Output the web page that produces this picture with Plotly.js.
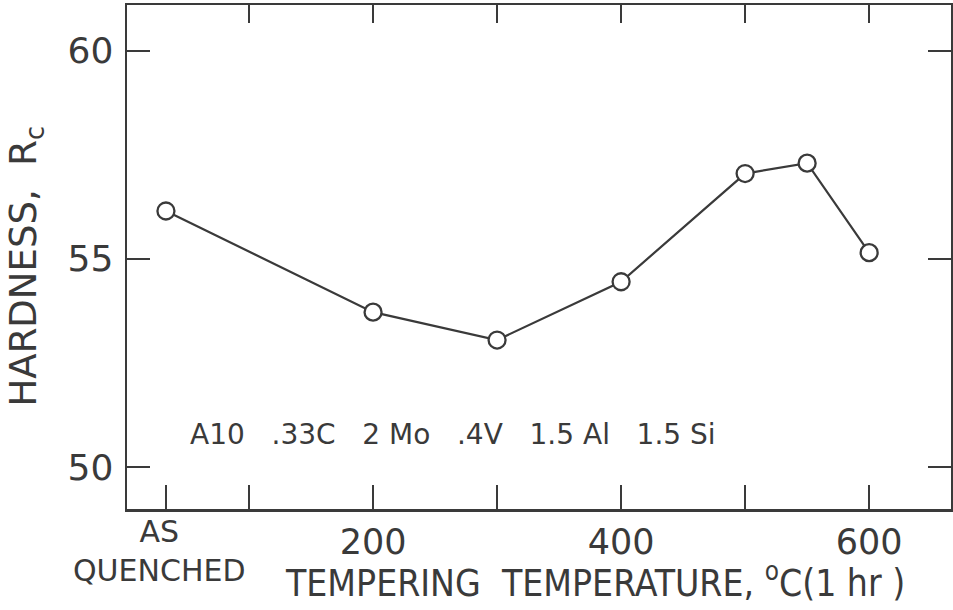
<!DOCTYPE html>
<html>
<head>
<meta charset="utf-8">
<script src="https://cdn.plot.ly/plotly-3.0.1.min.js"></script>
<style>html,body{margin:0;padding:0;background:#fff;}#chart{width:953px;height:610px;}</style>
</head>
<body>
<div id="chart"></div>
<script>
// ---- data ----
const conditionLabels = ["AS QUENCHED", "200", "300", "400", "500", "550", "600"];
const temperatureX = [33, 200, 300, 400, 500, 550, 600]; // "AS QUENCHED" placed at its tick
const hardnessRc = [56.15, 53.72, 53.05, 54.45, 57.05, 57.3, 55.15];

const xTickVals = [200, 400, 600];
const xTickText = ["200", "400", "600"];
const xMinorTickVals = [33, 100, 300, 500];
const xTopTickVals = [100, 200, 300, 400, 500, 600];
const asQuenchedLabel = "AS<br>QUENCHED";
const yTickVals = [50, 55, 60];
const yTickText = ["50", "55", "60"];
const alloyNote = "A10\u00A0\u00A0\u00A0.33C\u00A0\u00A0\u00A02\u00A0Mo\u00A0\u00A0\u00A0.4V\u00A0\u00A0\u00A01.5\u00A0Al\u00A0\u00A0\u00A01.5\u00A0Si";

const ink = "#3a3a3a";
const fontFam = "DejaVu Sans, sans-serif";
const condFam = "DejaVu Sans Condensed, DejaVu Sans, sans-serif";

const xRange = [1.6, 666];
const yRange = [48.99, 61.1];

const traces = [
  {
    x: temperatureX, y: hardnessRc, text: conditionLabels,
    type: "scatter", mode: "lines+markers",
    line: {color: ink, width: 2.2},
    marker: {symbol: "circle", size: 17, color: "#ffffff", line: {color: ink, width: 2.3}},
    hoverinfo: "x+y", showlegend: false
  },
  {
    x: [xTopTickVals[0]], y: [hardnessRc[0]], xaxis: "x2", yaxis: "y",
    type: "scatter", mode: "markers", marker: {opacity: 0}, showlegend: false, hoverinfo: "skip"
  }
];

const layout = {
  width: 953, height: 610,
  margin: {l: 127, r: 2, t: 5, b: 101, pad: 0},
  paper_bgcolor: "#ffffff", plot_bgcolor: "#ffffff",
  showlegend: false,
  font: {family: fontFam, color: ink},
  xaxis: {
    range: xRange, tickmode: "array", tickvals: xTickVals, ticktext: xTickText,
    ticks: "inside", ticklen: 24, tickwidth: 2, tickcolor: ink,
    minor: {tickmode: "array", tickvals: xMinorTickVals, ticks: "inside", ticklen: 24, tickwidth: 2, tickcolor: ink, showgrid: false},
    showline: true, linecolor: ink, linewidth: 2.5, mirror: true,
    showgrid: false, zeroline: false,
    tickfont: {family: fontFam, size: 35, color: ink},
    ticklabelstandoff: 0
  },
  xaxis2: {
    overlaying: "x", side: "top", anchor: "y", range: xRange,
    tickmode: "array", tickvals: xTopTickVals, ticks: "inside", ticklen: 18, tickwidth: 2, tickcolor: ink,
    showticklabels: false, showgrid: false, zeroline: false, showline: false
  },
  yaxis: {
    range: yRange, tickmode: "array", tickvals: yTickVals, ticktext: yTickText,
    ticks: "inside", ticklen: 23, tickwidth: 2, tickcolor: ink,
    showline: true, linecolor: ink, linewidth: 2.5, mirror: "ticks",
    showgrid: false, zeroline: false,
    tickfont: {family: fontFam, size: 36, color: ink},
    ticklabelstandoff: 4
  },
  annotations: [
    {
      text: asQuenchedLabel,
      xref: "x", yref: "paper", x: temperatureX[0], y: (509 - 551) / 504, xanchor: "center", yanchor: "middle",
      xshift: -6, showarrow: false, font: {family: fontFam, size: 30, color: ink}
    },
    {
      text: "HARDNESS,\u00A0\u00A0R<sub>c</sub>", textangle: -90,
      xref: "paper", yref: "paper", x: -0.122, y: (509 - 266) / 504, xanchor: "center", yanchor: "middle",
      showarrow: false, font: {family: fontFam, size: 37, color: ink}
    },
    {
      text: "TEMPERING\u00A0\u00A0TEMPERATURE,\u00A0<sup>o</sup>C(1\u00A0hr\u00A0)",
      xref: "paper", yref: "paper", x: (283 - 127) / 824, y: (509 - 580) / 504, xanchor: "left", yanchor: "middle",
      showarrow: false, font: {family: condFam, size: 37, color: ink}
    },
    {
      text: alloyNote,
      xref: "paper", yref: "paper", x: (188 - 127) / 824, y: (509 - 434) / 504, xanchor: "left", yanchor: "middle",
      showarrow: false, font: {family: fontFam, size: 28, color: ink}
    }
  ]
};

Plotly.newPlot("chart", traces, layout, {staticPlot: true, displayModeBar: false});
</script>
</body>
</html>
